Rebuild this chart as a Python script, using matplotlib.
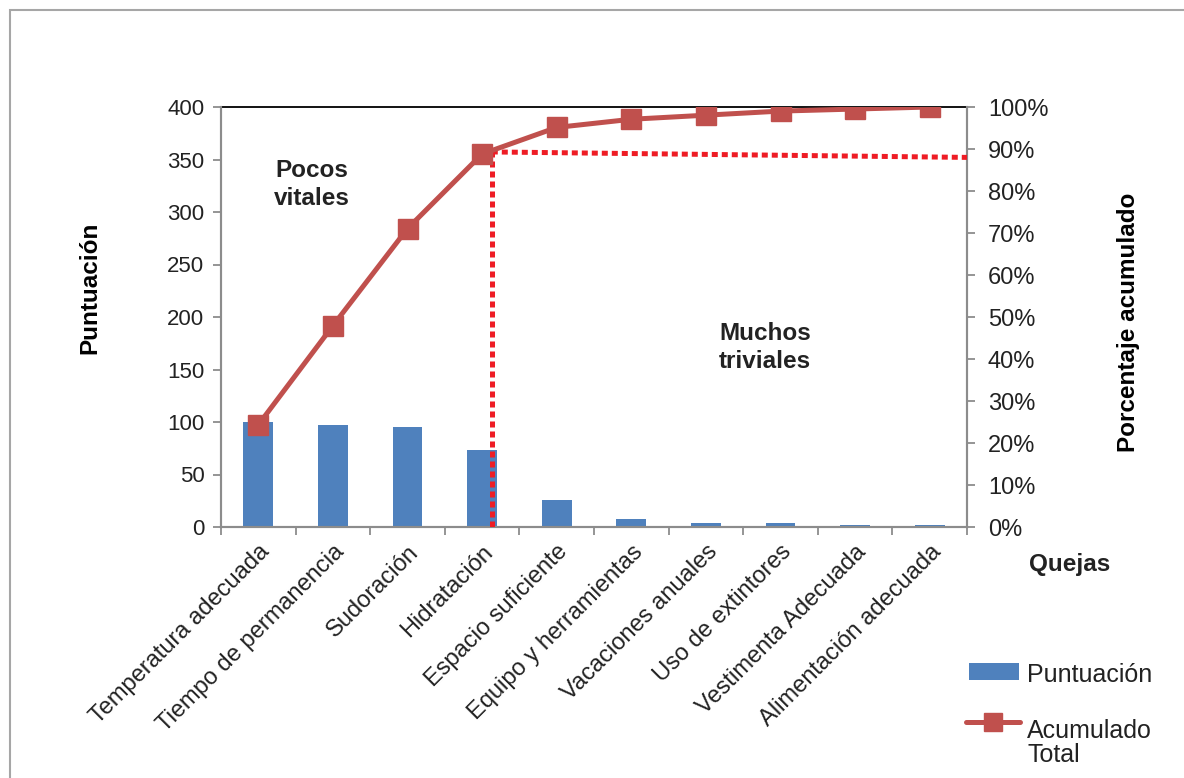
import matplotlib.pyplot as plt
import matplotlib.patches as mpatches
from matplotlib.lines import Line2D
import numpy as np

plt.rcParams['font.family'] = ['Liberation Sans', 'DejaVu Sans']

# complaint categories and their scores
quejas = ['Temperatura adecuada', 'Tiempo de permanencia', 'Sudoración',
          'Hidratación', 'Espacio suficiente', 'Equipo y herramientas',
          'Vacaciones anuales', 'Uso de extintores', 'Vestimenta Adecuada',
          'Alimentación adecuada']
puntuacion = [100, 97, 95, 73, 26, 8, 4, 4, 2, 2]

left_ticks = [0, 50, 100, 150, 200, 250, 300, 350, 400]
right_ticks = [0.0, 0.1, 0.2, 0.3, 0.4, 0.5, 0.6, 0.7, 0.8, 0.9, 1.0]

acumulado = np.cumsum(puntuacion) / np.sum(puntuacion)

bar_color = '#4F81BD'
line_color = '#C0504D'
axis_grey = '#8C8C8C'
cut_red = '#EE1C25'
text_color = '#222222'

W, H = 1184, 778
fig = plt.figure(figsize=(W / 100, H / 100), dpi=100)
fig.patches.append(mpatches.Rectangle((10 / W, -0.1), 1.2, 1 - 10 / H + 0.1,
                                      transform=fig.transFigure, fill=False,
                                      edgecolor='#A6A6A6', linewidth=1.5))

ax = fig.add_axes([221 / W, 251 / H, 746 / W, 420 / H])
x = np.arange(len(quejas))
ax.bar(x, puntuacion, width=0.4, color=bar_color, zorder=2)
ax.set_xlim(-0.5, len(quejas) - 0.5)
ax.set_ylim(0, 400)
ax.set_yticks(left_ticks)
ax.tick_params(axis='y', labelsize=16, colors=text_color, length=6,
               width=1.3, color=axis_grey, pad=6)
ax.set_xticks(x)
ax.set_xticklabels(quejas, rotation=45, ha='right', rotation_mode='anchor',
                   fontsize=17, color=text_color)
ax.tick_params(axis='x', which='major', length=0, pad=10)
ax.set_xticks(np.arange(-0.5, len(quejas)), minor=True)
ax.tick_params(axis='x', which='minor', length=6, width=1.3, color=axis_grey)
for side in ['left', 'bottom', 'right']:
    ax.spines[side].set_color(axis_grey)
    ax.spines[side].set_linewidth(1.5)
ax.spines['top'].set_color('black')
ax.spines['top'].set_linewidth(1.3)
ax.set_ylabel('Puntuación', fontsize=17.5, fontweight='bold')
ax.yaxis.set_label_coords(-0.16, 0.57)

# cumulative percentage on the secondary axis
ax2 = ax.twinx()
ax2.plot(x, acumulado, color=line_color, linewidth=3.6, marker='s',
         markersize=14, zorder=4)
ax2.set_ylim(0, 1)
ax2.set_yticks(right_ticks)
ax2.set_yticklabels([f'{int(round(t * 100))}%' for t in right_ticks])
ax2.tick_params(axis='y', labelsize=17, colors=text_color, length=6,
                width=1.3, color=axis_grey, pad=9)
for side in ['left', 'bottom', 'right']:
    ax2.spines[side].set_color(axis_grey)
    ax2.spines[side].set_linewidth(1.5)
ax2.spines['top'].set_visible(False)
ax2.set_ylabel('Porcentaje acumulado', fontsize=17.5, fontweight='bold')
ax2.yaxis.set_label_coords(1.201, 0.488)

# vital few / trivial many cutoff
ax2.plot([3.13, 3.13], [0, 0.893], color=cut_red, linewidth=3.6,
         linestyle=(0, (1.2, 0.8)), dash_capstyle='butt', zorder=3)
ax2.plot([3.13, 9.5], [0.893, 0.88], color=cut_red, linewidth=3.6,
         linestyle=(0, (1.2, 0.8)), dash_capstyle='butt', zorder=3, clip_on=False)

ax.text(0.72, 326, 'Pocos\nvitales', ha='center', va='center', fontsize=17.5,
        fontweight='bold', color=text_color, linespacing=1.25)
ax.text(6.79, 171, 'Muchos\ntriviales', ha='center', va='center', fontsize=17.5,
        fontweight='bold', color=text_color, linespacing=1.25)

fig.text(1070 / W, 1 - 565 / H, 'Quejas', ha='center', va='center',
         fontsize=17.5, fontweight='bold', color=text_color)

# legend drawn by hand in figure pixels
fig.patches.append(mpatches.Rectangle((969 / W, 1 - 680 / H), 50 / W, 17 / H,
                                      transform=fig.transFigure,
                                      facecolor=bar_color, edgecolor='none'))
fig.text(1027 / W, 1 - 675 / H, 'Puntuación', ha='left', va='center',
         fontsize=18, color=text_color)
fig.lines.append(Line2D([966 / W, 1020 / W], [1 - 722 / H, 1 - 722 / H],
                        transform=fig.transFigure, color=line_color,
                        linewidth=3.6, solid_capstyle='round'))
fig.lines.append(Line2D([993 / W], [1 - 722 / H], transform=fig.transFigure,
                        color=line_color, marker='s', markersize=13,
                        linestyle='none'))
fig.text(1027 / W, 1 - 743 / H, 'Acumulado\nTotal', ha='left', va='center',
         fontsize=18, color=text_color, linespacing=1.05)

fig.savefig('out.png', dpi=100)
